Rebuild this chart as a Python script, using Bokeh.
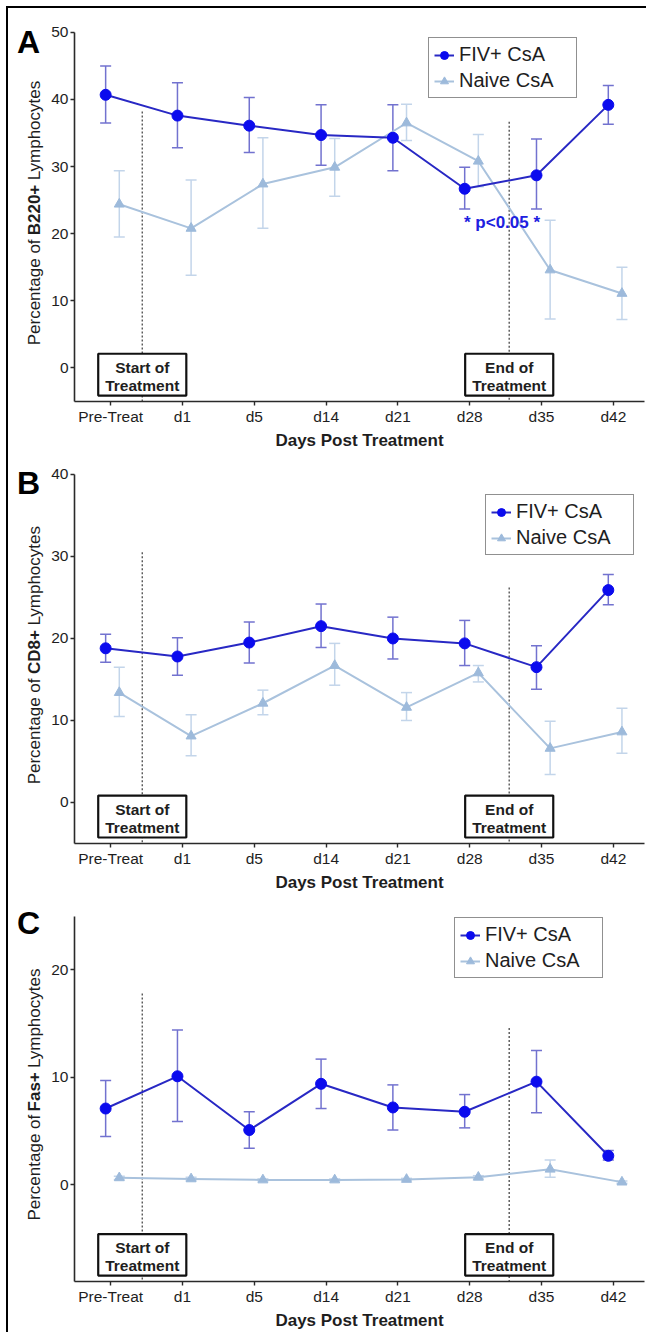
import math
from bokeh.plotting import figure
from bokeh.models import (Range1d, FixedTicker, Whisker, TeeHead, ColumnDataSource,
                          Legend, LegendItem, Label)
from bokeh.layouts import column, row
from bokeh.embed import file_html
from bokeh.resources import INLINE

# ---------------- data ----------------
categories = ["Pre-Treat", "d1", "d5", "d14", "d21", "d28", "d35", "d42"]
series_names = ["FIV+ CsA", "Naive CsA"]

# Panel A: Percentage of B220+ Lymphocytes
a_fiv = [40.7, 37.6, 36.1, 34.7, 34.3, 26.7, 28.7, 39.2]
a_fiv_hi = [45.0, 42.5, 40.3, 39.2, 39.2, 29.9, 34.1, 42.1]
a_fiv_lo = [36.5, 32.8, 32.1, 30.2, 29.4, 23.7, 23.7, 36.3]
a_nai = [24.4, 20.8, 27.4, 29.9, 36.5, 30.8, 14.6, 11.1]
a_nai_hi = [29.4, 28.0, 34.3, 34.2, 39.3, 34.8, 22.0, 15.0]
a_nai_lo = [19.5, 13.8, 20.8, 25.6, 33.9, 27.0, 7.3, 7.2]

# Panel B: Percentage of CD8+ Lymphocytes
b_fiv = [18.8, 17.8, 19.5, 21.5, 20.0, 19.4, 16.5, 25.9]
b_fiv_hi = [20.5, 20.1, 22.0, 24.2, 22.6, 22.2, 19.1, 27.8]
b_fiv_lo = [17.1, 15.5, 17.0, 18.9, 17.5, 16.7, 13.8, 24.1]
b_nai = [13.4, 8.1, 12.1, 16.7, 11.6, 15.8, 6.6, 8.6]
b_nai_hi = [16.5, 10.7, 13.7, 19.4, 13.4, 16.7, 9.9, 11.5]
b_nai_lo = [10.5, 5.7, 10.7, 14.3, 10.0, 14.7, 3.4, 6.0]

# Panel C: Percentage of Fas+ Lymphocytes
c_fiv = [7.1, 10.1, 5.1, 9.4, 7.2, 6.8, 9.6, 2.7]
c_fiv_hi = [9.7, 14.4, 6.8, 11.7, 9.3, 8.4, 12.5, 3.2]
c_fiv_lo = [4.5, 5.9, 3.4, 7.1, 5.1, 5.3, 6.7, 2.3]
c_nai = [0.65, 0.55, 0.45, 0.45, 0.5, 0.7, 1.45, 0.25]
c_nai_hi = [0.8, 0.7, 0.55, 0.55, 0.6, 0.85, 2.3, 0.35]
c_nai_lo = [0.5, 0.4, 0.35, 0.35, 0.4, 0.55, 0.7, 0.15]

# axis ranges / ticks
a_yrange = (-5, 50)
b_yrange = (-5, 40)
c_yrange = (-9, 25)
a_yticks = [0, 10, 20, 30, 40, 50]
b_yticks = [0, 10, 20, 30, 40]
c_yticks = [0, 10, 20]

# treatment marker lines (x position between categories, top value)
treat_x = [0.44, 5.55]
treat_texts = [["Start of", "Treatment"], ["End of", "Treatment"]]
a_treat_top = [38.2, 36.7]
b_treat_top = [30.5, 26.2]
c_treat_top = [17.8, 14.6]

x_title = "Days Post Treatment"
sig_text = "* p<0.05 *"
sig_pos = (5.45, 21.7)

# ---------------- style / geometry ----------------
FONT = "Liberation Sans"
TXT = "#1e1e1e"
FIV_MARK = "#0b0bee"
FIV_LINE = "#2828c4"
FIV_ERR = "#7272cf"
NAI_MARK = "#9dbadb"
NAI_LINE = "#a9c2dd"
NAI_ERR = "#c3d5ea"
DODGE = (-0.07, 0.12)

ORIGIN = 8            # page px where the layout content starts (margin + border)
STRIP_W = 40          # left strip with panel letter and y title
MAIN_W = 598
FRAME_LEFT = 72 - ORIGIN - STRIP_W
FRAME_W = 572
X0_PAGE = 108.3       # page px of first category
DX_PX = 72.06
X_START = (72 - X0_PAGE) / DX_PX
X_END = X_START + FRAME_W / DX_PX

REG = {' ': 278, 'P': 667, 'e': 556, 'r': 333, 'c': 500, 'n': 556, 't': 278, 'a': 556,
       'g': 556, 'o': 556, 'f': 278, 'L': 556, 'y': 500, 'm': 833, 'p': 556, 'h': 556, 's': 500}
BOLD = {'B': 722, '2': 556, '0': 556, '+': 584, 'C': 722, 'D': 722, '8': 556, 'F': 611,
        'a': 556, 's': 556}


def tw(s, size, bold=False):
    tab = BOLD if bold else REG
    return sum(tab.get(ch, 556) for ch in s) / 1000.0 * size


def make_panel(letter, letter_base, word, yr, yticks, top, frame_h, bottom,
               fiv, fhi, flo, nai, nhi, nlo, treat_top, legend_loc, sig=False):
    height = top + frame_h + bottom
    pxu = frame_h / (yr[1] - yr[0])
    y_ext = (yr[0], yr[1] + top / pxu)   # frame reaches the figure top; axis bounded

    def yd(py):  # figure-relative px -> data y
        return yr[1] - (py - top) / pxu

    p = figure(width=MAIN_W, height=height, x_range=Range1d(X_START, X_END),
               y_range=Range1d(*y_ext), output_backend="svg", toolbar_location=None,
               min_border_left=FRAME_LEFT, min_border_right=MAIN_W - FRAME_LEFT - FRAME_W,
               min_border_top=0, min_border_bottom=bottom)
    p.outline_line_color = None
    p.grid.visible = False
    p.background_fill_color = "white"

    for ax in (p.xaxis[0], p.yaxis[0]):
        ax.axis_line_color = "#2a2a2a"
        ax.axis_line_width = 1.6
        ax.major_tick_line_color = "#2a2a2a"
        ax.major_tick_line_width = 1.4
        ax.major_tick_out = 4
        ax.major_tick_in = 0
        ax.minor_tick_out = 0
        ax.minor_tick_in = 0
        ax.major_label_text_font = FONT
        ax.major_label_text_font_size = "15.5px"
        ax.major_label_text_color = TXT
        ax.major_label_standoff = 2
    p.xaxis.ticker = FixedTicker(ticks=list(range(len(categories))))
    p.xaxis.major_label_overrides = {i: c for i, c in enumerate(categories)}
    p.yaxis.ticker = FixedTicker(ticks=yticks)
    p.yaxis.bounds = yr
    p.xaxis.axis_label = x_title
    p.xaxis.axis_label_text_font = FONT
    p.xaxis.axis_label_text_font_size = "17px"
    p.xaxis.axis_label_text_font_style = "bold"
    p.xaxis.axis_label_text_color = TXT
    p.xaxis.axis_label_standoff = 3

    # treatment lines and boxes
    fb = top + frame_h  # frame bottom px
    p.segment(x0=treat_x, x1=treat_x, y0=treat_top, y1=[yr[0]] * 2,
              line_color="#555555", line_width=1.4, line_dash="2 2")
    half = 44.2 / DX_PX
    btm = yd(fb - 6)
    tp = yd(fb - 48)
    p.quad(left=[x - half for x in treat_x], right=[x + half for x in treat_x],
           top=[tp, tp], bottom=[btm, btm], fill_color="white", line_color="#111111",
           line_width=2.2)
    for x, lines in zip(treat_x, treat_texts):
        for k, t in enumerate(lines):
            p.add_layout(Label(x=x, y=yd(fb - 48 + 13.8 + 18.3 * k), text=t,
                               text_font=FONT, text_font_size="15.5px",
                               text_font_style="bold", text_color=TXT,
                               text_align="center", text_baseline="alphabetic"))

    xs = list(range(len(categories)))
    rends = []
    for vals, hi, lo, dx, mc, lc, ec, mk, ms in (
            (nai, nhi, nlo, DODGE[1], NAI_MARK, NAI_LINE, NAI_ERR, "triangle", 10),
            (fiv, fhi, flo, DODGE[0], FIV_MARK, FIV_LINE, FIV_ERR, "circle", 11)):
        src = ColumnDataSource(dict(x=[x + dx for x in xs], y=vals, hi=hi, lo=lo))
        w = Whisker(base="x", upper="hi", lower="lo", source=src, line_color=ec,
                    line_width=1.5,
                    upper_head=TeeHead(size=11, line_color=ec, line_width=1.5),
                    lower_head=TeeHead(size=11, line_color=ec, line_width=1.5))
        p.add_layout(w)
        lr = p.line("x", "y", source=src, line_color=lc, line_width=2)
        sr = p.scatter("x", "y", source=src, marker=mk, size=ms, fill_color=mc,
                       line_color=mc)
        rends.append((lr, sr))
    rends = rends[::-1]

    legend = Legend(items=[LegendItem(label=series_names[0], renderers=list(rends[0])),
                           LegendItem(label=series_names[1], renderers=list(rends[1]))],
                    location=legend_loc, label_text_font=FONT,
                    label_text_font_size="20px", label_text_color=TXT,
                    border_line_color="#222222", border_line_width=1.6,
                    background_fill_color="white", background_fill_alpha=1.0,
                    padding=5, spacing=3, glyph_width=20, glyph_height=22,
                    label_height=22, label_standoff=5, label_width=112, margin=0)
    p.add_layout(legend, "center")

    if sig:
        p.add_layout(Label(x=sig_pos[0], y=sig_pos[1], text=sig_text, text_font=FONT,
                           text_font_size="17px", text_font_style="bold",
                           text_color="#2020e0", text_align="center",
                           text_baseline="alphabetic"))

    # left strip: panel letter + y title (mixed weight); same vertical scale as panel
    s = figure(width=STRIP_W, height=height, x_range=Range1d(0, STRIP_W),
               y_range=Range1d(*y_ext), output_backend="svg", toolbar_location=None,
               x_axis_type=None, y_axis_type=None, min_border_left=0, min_border_right=0,
               min_border_top=0, min_border_bottom=bottom)
    s.outline_line_color = None
    s.grid.visible = False
    s.add_layout(Label(x=8.5, y=yd(letter_base), text=letter, text_font=FONT,
                       text_font_size="32px", text_font_style="bold", text_color="black",
                       text_align="left", text_baseline="alphabetic"))
    size = 17
    # (text, bold, extra gap in px after the piece)
    parts = [("Percentage of", False), (word, True), ("Lymphocytes", False)]
    gap = tw(" ", size)
    total = sum(tw(t, size, b) for t, b in parts) + 2 * gap
    center = top + frame_h / 2 - 4
    start = center + total / 2
    for t, b in parts:
        s.add_layout(Label(x=34 - ORIGIN, y=yd(start), text=t, angle=math.pi / 2,
                           text_font=FONT, text_font_size=f"{size}px",
                           text_font_style="bold" if b else "normal", text_color=TXT,
                           text_align="left", text_baseline="middle"))
        start -= tw(t, size, b) + gap
    return row(s, p)


rA = make_panel("A", 34, "B220+", a_yrange, a_yticks, 24, 371, 49,
                a_fiv, a_fiv_hi, a_fiv_lo, a_nai, a_nai_hi, a_nai_lo, a_treat_top,
                (354, 303), sig=True)
rB = make_panel("B", 31, "CD8+", b_yrange, b_yticks, 22, 370, 50,
                b_fiv, b_fiv_hi, b_fiv_lo, b_nai, b_nai_hi, b_nai_lo, b_treat_top,
                (411, 288))
rC = make_panel("C", 29, "Fas+", c_yrange, c_yticks, 22, 370, 46,
                c_fiv, c_fiv_hi, c_fiv_lo, c_nai, c_nai_hi, c_nai_lo, c_treat_top,
                (380, 303))

layout = column(rA, rB, rC, styles={"margin-left": "6px", "margin-top": "6px",
                                    "border-left": "2px solid black",
                                    "border-top": "2px solid black"})

open("out.html", "w").write(file_html(layout, INLINE))
